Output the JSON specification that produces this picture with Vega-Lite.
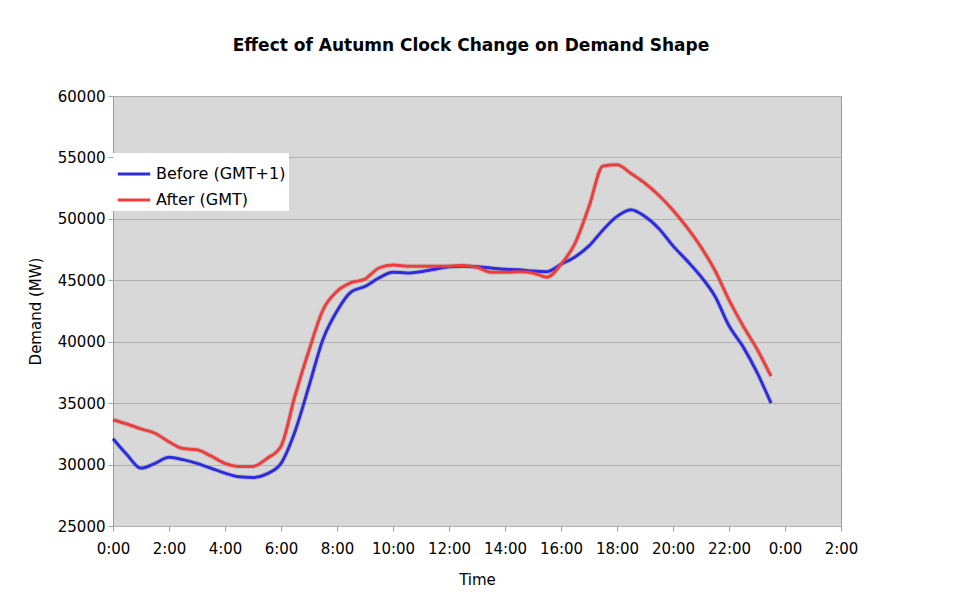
{
  "$schema": "https://vega.github.io/schema/vega-lite/v6.json",
  "width": 728,
  "height": 430,
  "autosize": {"type": "none"},
  "padding": {"left": 113, "top": 96, "right": 119, "bottom": 73},
  "background": "white",
  "title": {
    "text": "Effect of Autumn Clock Change on Demand Shape",
    "fontSize": 17,
    "font": "DejaVu Sans",
    "fontWeight": "bold",
    "color": "#000000",
    "anchor": "middle",
    "offset": 34,
    "dx": -6
  },
  "datasets": {
    "demand": [
      {"hour": 0, "series": "Before (GMT+1)", "mw": 32100},
      {"hour": 0.5, "series": "Before (GMT+1)", "mw": 30800},
      {"hour": 1, "series": "Before (GMT+1)", "mw": 29700},
      {"hour": 1.5, "series": "Before (GMT+1)", "mw": 30100},
      {"hour": 2, "series": "Before (GMT+1)", "mw": 30600},
      {"hour": 2.5, "series": "Before (GMT+1)", "mw": 30400},
      {"hour": 3, "series": "Before (GMT+1)", "mw": 30100},
      {"hour": 3.5, "series": "Before (GMT+1)", "mw": 29700},
      {"hour": 4, "series": "Before (GMT+1)", "mw": 29300},
      {"hour": 4.5, "series": "Before (GMT+1)", "mw": 29000},
      {"hour": 5, "series": "Before (GMT+1)", "mw": 28950},
      {"hour": 5.5, "series": "Before (GMT+1)", "mw": 29250},
      {"hour": 6, "series": "Before (GMT+1)", "mw": 30100},
      {"hour": 6.5, "series": "Before (GMT+1)", "mw": 32700},
      {"hour": 7, "series": "Before (GMT+1)", "mw": 36400},
      {"hour": 7.5, "series": "Before (GMT+1)", "mw": 40200},
      {"hour": 8, "series": "Before (GMT+1)", "mw": 42500},
      {"hour": 8.5, "series": "Before (GMT+1)", "mw": 44050},
      {"hour": 9, "series": "Before (GMT+1)", "mw": 44500},
      {"hour": 9.5, "series": "Before (GMT+1)", "mw": 45200},
      {"hour": 10, "series": "Before (GMT+1)", "mw": 45650},
      {"hour": 10.5, "series": "Before (GMT+1)", "mw": 45600},
      {"hour": 11, "series": "Before (GMT+1)", "mw": 45700},
      {"hour": 11.5, "series": "Before (GMT+1)", "mw": 45900},
      {"hour": 12, "series": "Before (GMT+1)", "mw": 46100},
      {"hour": 12.5, "series": "Before (GMT+1)", "mw": 46150},
      {"hour": 13, "series": "Before (GMT+1)", "mw": 46100},
      {"hour": 13.5, "series": "Before (GMT+1)", "mw": 46000},
      {"hour": 14, "series": "Before (GMT+1)", "mw": 45900},
      {"hour": 14.5, "series": "Before (GMT+1)", "mw": 45850},
      {"hour": 15, "series": "Before (GMT+1)", "mw": 45750},
      {"hour": 15.5, "series": "Before (GMT+1)", "mw": 45700},
      {"hour": 16, "series": "Before (GMT+1)", "mw": 46300},
      {"hour": 16.5, "series": "Before (GMT+1)", "mw": 46900},
      {"hour": 17, "series": "Before (GMT+1)", "mw": 47800},
      {"hour": 17.5, "series": "Before (GMT+1)", "mw": 49100},
      {"hour": 18, "series": "Before (GMT+1)", "mw": 50200},
      {"hour": 18.5, "series": "Before (GMT+1)", "mw": 50750},
      {"hour": 19, "series": "Before (GMT+1)", "mw": 50200},
      {"hour": 19.5, "series": "Before (GMT+1)", "mw": 49200},
      {"hour": 20, "series": "Before (GMT+1)", "mw": 47800},
      {"hour": 20.5, "series": "Before (GMT+1)", "mw": 46600},
      {"hour": 21, "series": "Before (GMT+1)", "mw": 45300},
      {"hour": 21.5, "series": "Before (GMT+1)", "mw": 43700},
      {"hour": 22, "series": "Before (GMT+1)", "mw": 41300},
      {"hour": 22.5, "series": "Before (GMT+1)", "mw": 39600},
      {"hour": 23, "series": "Before (GMT+1)", "mw": 37500},
      {"hour": 23.5, "series": "Before (GMT+1)", "mw": 35000},
      {"hour": 0, "series": "After (GMT)", "mw": 33650},
      {"hour": 0.5, "series": "After (GMT)", "mw": 33300},
      {"hour": 1, "series": "After (GMT)", "mw": 32900},
      {"hour": 1.5, "series": "After (GMT)", "mw": 32550},
      {"hour": 2, "series": "After (GMT)", "mw": 31850},
      {"hour": 2.5, "series": "After (GMT)", "mw": 31300},
      {"hour": 3, "series": "After (GMT)", "mw": 31200},
      {"hour": 3.5, "series": "After (GMT)", "mw": 30700},
      {"hour": 4, "series": "After (GMT)", "mw": 30100},
      {"hour": 4.5, "series": "After (GMT)", "mw": 29850},
      {"hour": 5, "series": "After (GMT)", "mw": 29850},
      {"hour": 5.5, "series": "After (GMT)", "mw": 30500},
      {"hour": 6, "series": "After (GMT)", "mw": 31500},
      {"hour": 6.5, "series": "After (GMT)", "mw": 35600},
      {"hour": 7, "series": "After (GMT)", "mw": 39300},
      {"hour": 7.5, "series": "After (GMT)", "mw": 42600},
      {"hour": 8, "series": "After (GMT)", "mw": 44100},
      {"hour": 8.5, "series": "After (GMT)", "mw": 44800},
      {"hour": 9, "series": "After (GMT)", "mw": 45100},
      {"hour": 9.5, "series": "After (GMT)", "mw": 46000},
      {"hour": 10, "series": "After (GMT)", "mw": 46250},
      {"hour": 10.5, "series": "After (GMT)", "mw": 46150},
      {"hour": 11, "series": "After (GMT)", "mw": 46150},
      {"hour": 11.5, "series": "After (GMT)", "mw": 46150},
      {"hour": 12, "series": "After (GMT)", "mw": 46150},
      {"hour": 12.5, "series": "After (GMT)", "mw": 46200},
      {"hour": 13, "series": "After (GMT)", "mw": 46050},
      {"hour": 13.5, "series": "After (GMT)", "mw": 45650},
      {"hour": 14, "series": "After (GMT)", "mw": 45650},
      {"hour": 14.5, "series": "After (GMT)", "mw": 45700},
      {"hour": 15, "series": "After (GMT)", "mw": 45600},
      {"hour": 15.5, "series": "After (GMT)", "mw": 45250},
      {"hour": 16, "series": "After (GMT)", "mw": 46300},
      {"hour": 16.5, "series": "After (GMT)", "mw": 48000},
      {"hour": 17, "series": "After (GMT)", "mw": 51000},
      {"hour": 17.5, "series": "After (GMT)", "mw": 54300},
      {"hour": 18, "series": "After (GMT)", "mw": 54400},
      {"hour": 18.5, "series": "After (GMT)", "mw": 53700},
      {"hour": 19, "series": "After (GMT)", "mw": 52900},
      {"hour": 19.5, "series": "After (GMT)", "mw": 51900},
      {"hour": 20, "series": "After (GMT)", "mw": 50700},
      {"hour": 20.5, "series": "After (GMT)", "mw": 49300},
      {"hour": 21, "series": "After (GMT)", "mw": 47700},
      {"hour": 21.5, "series": "After (GMT)", "mw": 45800},
      {"hour": 22, "series": "After (GMT)", "mw": 43400},
      {"hour": 22.5, "series": "After (GMT)", "mw": 41300},
      {"hour": 23, "series": "After (GMT)", "mw": 39400},
      {"hour": 23.5, "series": "After (GMT)", "mw": 37200}
    ]
  },
  "data": {"name": "demand"},
  "encoding": {
    "x": {
      "field": "hour",
      "type": "quantitative",
      "scale": {"domain": [0, 26], "nice": false},
      "axis": {
        "title": "Time",
        "values": [0, 2, 4, 6, 8, 10, 12, 14, 16, 18, 20, 22, 24, 26],
        "labelExpr": "(datum.value % 24) + ':00'",
        "labelFlush": false,
        "labelOverlap": false,
        "grid": false
      }
    },
    "y": {
      "field": "mw",
      "type": "quantitative",
      "scale": {"domain": [25000, 60000], "nice": false, "zero": false},
      "axis": {
        "title": "Demand (MW)",
        "values": [25000, 30000, 35000, 40000, 45000, 50000, 55000, 60000],
        "format": "d",
        "labelFlush": false,
        "grid": true
      }
    }
  },
  "layer": [
    {
      "mark": {"type": "line", "interpolate": "monotone", "stroke": "#7a7a7a", "strokeWidth": 5, "opacity": 0.25},
      "encoding": {"detail": {"field": "series"}}
    },
    {
      "mark": {"type": "line", "interpolate": "monotone", "strokeWidth": 3},
      "encoding": {
        "color": {
          "field": "series",
          "type": "nominal",
          "scale": {"domain": ["Before (GMT+1)", "After (GMT)"], "range": ["#2b2be6", "#f23c3c"]},
          "legend": {
            "title": null,
            "orient": "none",
            "legendX": 0,
            "legendY": 57,
            "fillColor": "white",
            "padding": 3,
            "symbolType": "stroke",
            "symbolSize": 1050,
            "symbolStrokeWidth": 3,
            "labelFontSize": 16,
            "labelFont": "DejaVu Sans",
            "labelColor": "#000000",
            "rowPadding": -4,
            "labelOffset": 4
          }
        }
      }
    }
  ],
  "config": {
    "font": "DejaVu Sans",
    "view": {"fill": "#d8d8d8", "stroke": "#9a9a9a", "strokeWidth": 1},
    "axis": {
      "labelFontSize": 15,
      "labelColor": "#000000",
      "titleFontSize": 15,
      "titleFontWeight": "normal",
      "titleColor": "#000000",
      "domain": false,
      "tickColor": "#a0a0a0",
      "tickSize": 5,
      "gridColor": "#b0b0b0",
      "gridWidth": 1.2
    },
    "axisX": {"labelPadding": 10, "titlePadding": 16},
    "axisY": {"labelPadding": 3, "titlePadding": 14}
  }
}
